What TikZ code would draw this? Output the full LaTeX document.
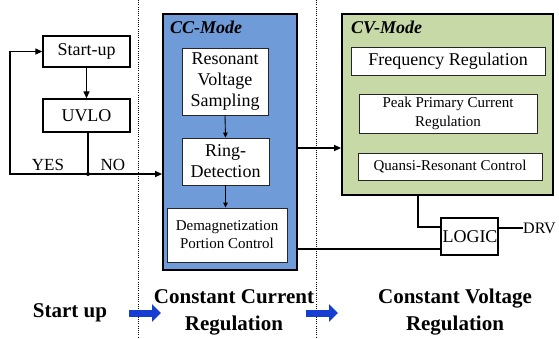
\documentclass[tikz,border=0pt]{standalone}
\usepackage{fontspec}
\setmainfont{Liberation Serif}
\usetikzlibrary{arrows.meta}
\definecolor{ccblue}{RGB}{111,155,216}
\definecolor{cvgreen}{RGB}{198,217,166}
\definecolor{flowblue}{RGB}{22,62,210}
\newcommand{\fs}[2]{\fontsize{#1}{#2}\selectfont}
\tikzset{
  blockbox/.style={draw=black, line width=1.4pt, fill=white, inner sep=0pt,
    align=center, font=\fs{18}{21}},
  subbox/.style={draw=black!85, line width=0.9pt, fill=white, inner sep=0pt,
    align=center},
  modebox/.style={draw=black, line width=1.8pt, inner sep=0pt},
  modelabel/.style={anchor=west, inner sep=0pt, font=\fs{18}{21}\bfseries\itshape},
  flow/.style={line width=1.3pt, -{Triangle[length=7pt,width=6pt]}},
  wire/.style={line width=1.3pt},
  smallflow/.style={line width=0.9pt, -{Triangle[length=5pt,width=4.5pt]}},
  phasearrow/.style={line width=7pt, flowblue, -{Triangle[length=9pt,width=17pt]}},
  phase/.style={align=center, inner sep=0pt, font=\fs{21}{27}\bfseries},
  divider/.style={line width=0.8pt, dash pattern=on 1pt off 1.2pt},
}
\begin{document}
\begin{tikzpicture}[x=1pt,y=-1pt]
\useasboundingbox[fill=white] (0,0) rectangle (559,338);

% phase dividers
\coordinate (d1t) at (138,0);   \coordinate (d1b) at (138,338);
\coordinate (d2t) at (316,0);   \coordinate (d2b) at (316,338);
\draw[divider] (d1t) -- (d1b);
\draw[divider] (d2t) -- (d2b);

% start-up loop
\node[blockbox, minimum width=87pt, minimum height=31pt] (startup) at (86.5,51.5) {Start-up};
\node[blockbox, minimum width=87pt, minimum height=33pt] (uvlo) at (86.5,115.5) {UVLO};

% constant current block
\node[modebox, fill=ccblue, minimum width=134pt, minimum height=256pt] (cc) at (230,142) {};
\node[modelabel] (cclabel) at (170,27) {CC-Mode};
\node[subbox, minimum width=86pt, minimum height=67pt, font=\fs{18}{21}] (rvs) at (225,81.5)
  {Resonant\\Voltage\\Sampling};
\node[subbox, minimum width=87pt, minimum height=47pt, font=\fs{18}{21}] (rd) at (225.5,161.5)
  {Ring-\\Detection};
\node[subbox, minimum width=120pt, minimum height=54pt, font=\fs{15}{18}] (dm) at (227,235)
  {Demagnetization\\Portion Control};

% constant voltage block
\node[modebox, fill=cvgreen, minimum width=211pt, minimum height=181pt] (cv) at (447.5,104.5) {};
\node[modelabel] (cvlabel) at (351,27) {CV-Mode};
\node[subbox, minimum width=194pt, minimum height=28pt, font=\fs{18}{21}] (fr) at (448,61)
  {Frequency Regulation};
\node[subbox, minimum width=178pt, minimum height=39pt, font=\fs{15}{19}] (pp) at (448,113.5)
  {Peak Primary Current\\Regulation};
\node[subbox, minimum width=184pt, minimum height=27pt, font=\fs{15}{18}] (qr) at (450,166.5)
  {Quansi-Resonant Control};

% output logic
\node[blockbox, minimum width=57pt, minimum height=37pt] (logic) at (469.5,236.5) {};
\node[inner sep=0pt, font=\fs{18}{21}] (logictxt) at (470,237) {LOGIC};
\node[inner sep=0pt, anchor=west, font=\fs{16}{19}] (drv) at (523,228) {DRV};

% start-up connections
\coordinate (j) at (88,174);
\coordinate (lp) at (10,174);
\draw[flow] (startup.south) -- (uvlo.north);
\draw[wire] (uvlo.south -| j) -- (j);
\draw[flow] (j) -- (lp) |- (startup.west);
\draw[flow] (j) -- (cc.west |- j);
\fill (j) circle (2pt);
\node[inner sep=0pt, font=\fs{17}{20}] (yes) at (48,164.5) {YES};
\node[inner sep=0pt, font=\fs{17}{20}] (no) at (113,164.5) {NO};

% inside the CC block
\draw[smallflow] (rvs.south) -- (rd.north);
\draw[smallflow] (rd.south) -- (dm.north -| rd.south);

% CC to CV
\coordinate (ccout) at (297,148);
\draw[flow] (ccout) -- (cv.west |- ccout);

% to the logic block
\coordinate (cvout) at (418,195);
\coordinate (cvbend) at (418,227);
\draw[wire] (cvout) -- (cvbend) -- (logic.west |- cvbend);
\coordinate (dmout) at (297,249);
\draw[wire] (dmout) -- (logic.west |- dmout);
\draw[wire] (logic.east |- drv.west) -- (drv.west);

% operating phases
\node[phase] (p1) at (70,313) {Start up};
\node[phase] (p2) at (234,312.5) {Constant Current\\Regulation};
\node[phase] (p3) at (455,312.5) {Constant Voltage\\Regulation};
\coordinate (a1s) at (129,313); \coordinate (a1e) at (161,313);
\coordinate (a2s) at (306,313); \coordinate (a2e) at (338,313);
\draw[phasearrow] (a1s) -- (a1e);
\draw[phasearrow] (a2s) -- (a2e);
\end{tikzpicture}
\end{document}
